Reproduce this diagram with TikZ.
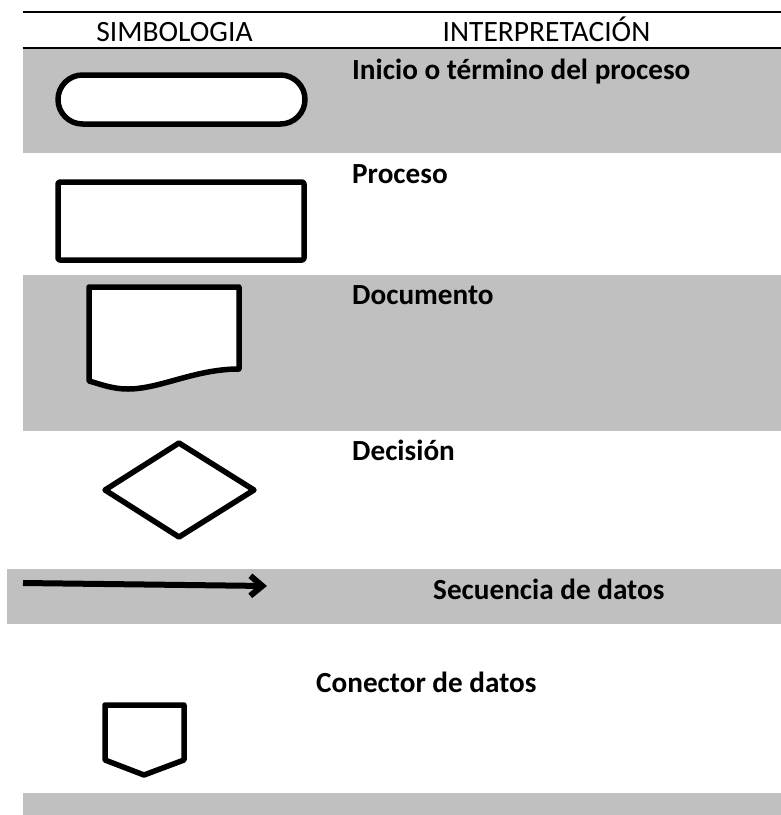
\documentclass[tikz,border=0pt]{standalone}
\usepackage{fontspec}
\setmainfont{Carlito}
\usetikzlibrary{arrows.meta}
\definecolor{bandgray}{RGB}{192,192,192}

\begin{document}
\begin{tikzpicture}[x=1pt, y=-1pt,
        rule/.style={line width=1.7pt},
        symb/.style={draw, line width=5.5pt, line join=round, fill=white},
        head/.style={anchor=base, inner sep=0pt, font=\fontsize{29.5}{34}\selectfont},
        lbl/.style={anchor=base west, inner sep=0pt, font=\bfseries\fontsize{29.2}{34}\selectfont}]
        \useasboundingbox (0,0) rectangle (781,815);

        % grey bands
        \fill[bandgray] (22.5,48) rectangle (781,153);
        \fill[bandgray] (22.5,275) rectangle (781,431);
        \fill[bandgray] (7,569) rectangle (781,624);
        \fill[bandgray] (22.5,793) rectangle (781,815);

        % header
        \draw[rule] (22.5,12) -- (781,12);
        \draw[rule] (22.5,48) -- (781,48);
        \node[head] (simb) at (174.5,41.7) {SIMBOLOGIA};
        \node[head] (interp) at (546.5,41.7) {INTERPRETACIÓN};

        % inicio o termino
        \node[symb, rounded corners=24.5pt, minimum width=247pt, minimum height=49pt] (inicio) at (181.5,99.5) {};
        \node[lbl] (t-inicio) at (352,79) {Inicio o término del proceso};

        % proceso
        \node[symb, rounded corners=2pt, minimum width=246pt, minimum height=78pt] (proceso) at (181,221) {};
        \node[lbl] (t-proceso) at (352,183) {Proceso};

        % documento
        \draw[symb] (89,287) -- (239,287) -- (239,369)
            .. controls (195,369) and (160,389) .. (128,389)
            .. controls (112,389) and (100,384) .. (89,381) -- cycle;
        \node[lbl] (t-documento) at (352,304) {Documento};

        % decision
        \draw[symb] (179,443) -- (254,490) -- (179,537) -- (105,490) -- cycle;
        \node[lbl] (t-decision) at (352,460) {Decisión};

        % secuencia de datos
        \coordinate (sec-a) at (23,583);
        \coordinate (sec-b) at (267,586);
        \draw[line width=6pt, -{Straight Barb[length=12pt, width=20pt]}] (sec-a) -- (sec-b);
        \node[lbl] (t-secuencia) at (433,599) {Secuencia de datos};

        % conector de datos
        \draw[symb] (105,705) -- (184,705) -- (184,760) -- (144,775) -- (105,760) -- cycle;
        \node[lbl] (t-conector) at (316,692) {Conector de datos};
    \end{tikzpicture}
\end{document}
